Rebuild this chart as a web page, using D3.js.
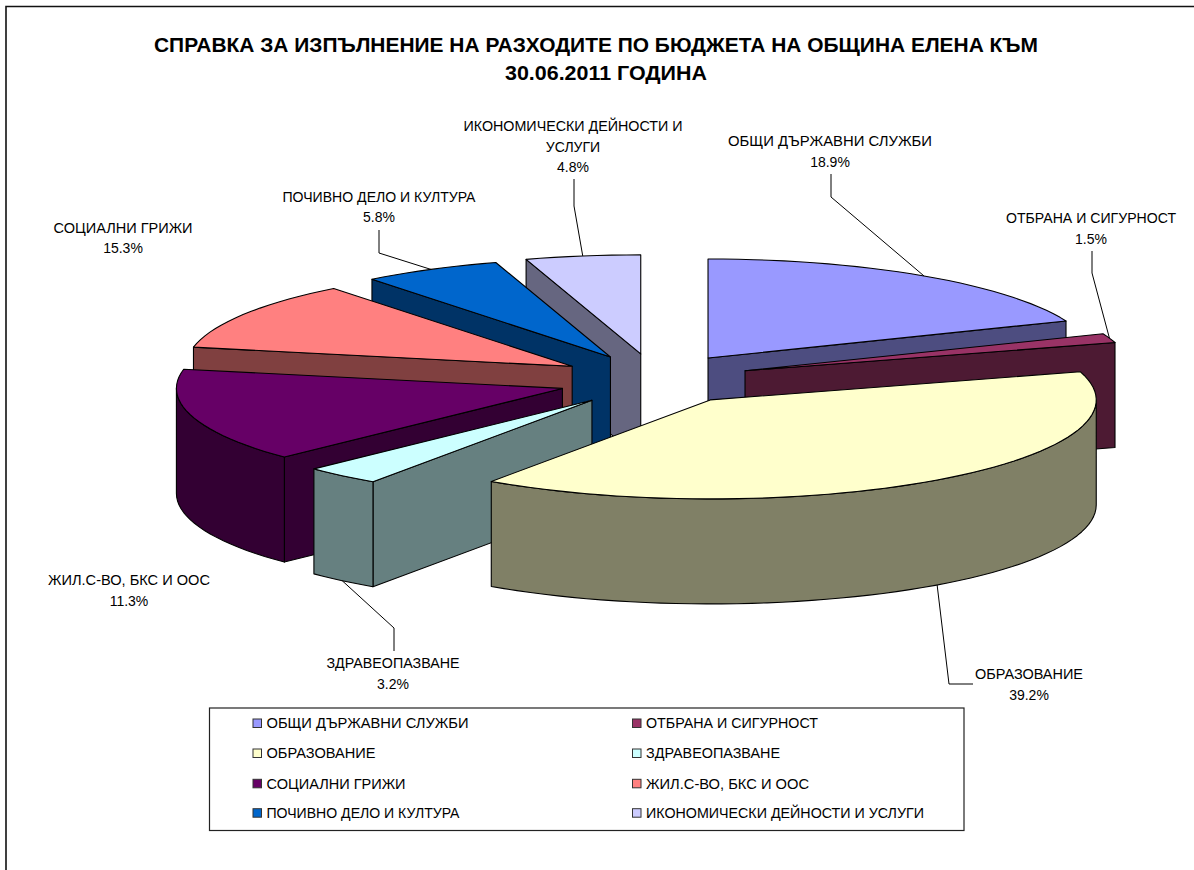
<!DOCTYPE html>
<html>
<head>
<meta charset="utf-8">
<script src="https://cdn.jsdelivr.net/npm/d3@7/dist/d3.min.js"></script>
<style>
html,body{margin:0;padding:0;background:#fff}
svg{display:block}
text{font-family:"Liberation Sans",Arial,sans-serif;fill:#000}
</style>
</head>
<body>
<svg id="chart" width="1194" height="870"></svg>
<script>
const categories = ["ОБЩИ ДЪРЖАВНИ СЛУЖБИ","ОТБРАНА И СИГУРНОСТ","ОБРАЗОВАНИЕ","ЗДРАВЕОПАЗВАНЕ","СОЦИАЛНИ ГРИЖИ","ЖИЛ.С-ВО, БКС И ООС","ПОЧИВНО ДЕЛО И КУЛТУРА","ИКОНОМИЧЕСКИ ДЕЙНОСТИ И УСЛУГИ"];
const values = [18.9,1.5,39.2,3.2,15.3,11.3,5.8,4.8];
const topColors = ["#9999FF","#993366","#FFFFCC","#CCFFFF","#660066","#FF8080","#0066CC","#CCCCFF"];
const titleLines = ["СПРАВКА ЗА ИЗПЪЛНЕНИЕ НА РАЗХОДИТЕ ПО БЮДЖЕТА НА ОБЩИНА ЕЛЕНА КЪМ","30.06.2011 ГОДИНА"];
// data labels as they appear on the chart (wrapped lines, value text)
const labelLines = [
  ["ОБЩИ ДЪРЖАВНИ СЛУЖБИ","18.9%"],
  ["ОТБРАНА И СИГУРНОСТ","1.5%"],
  ["ОБРАЗОВАНИЕ","39.2%"],
  ["ЗДРАВЕОПАЗВАНЕ","3.2%"],
  ["ЖИЛ.С-ВО, БКС И ООС","11.3%"],
  ["СОЦИАЛНИ ГРИЖИ","15.3%"],
  ["ПОЧИВНО ДЕЛО И КУЛТУРА","5.8%"],
  ["ИКОНОМИЧЕСКИ ДЕЙНОСТИ И","УСЛУГИ","4.8%"]
];

// ---- layout ----
const cx = 654.2, cy = 379.2, rx = 386, ry = 99, depth = 105;
const explodeX = 96.2, explodeY = 25.6;
// small per-slice corrections of the explosion
const nudge = [[0,0],[0,0],[-0.5,0],[0,1.5],[0.5,2],[0,0.5],[1,0.5],[1,0]];
const paintOrder = [7,6,5,4,0,1,3,2];
const labelPos = [
  {x:830,y:146,w:204},{x:1091,y:223,w:170},{x:1029,y:679,w:108},{x:393,y:668,w:133},
  {x:129,y:585,w:162},{x:123,y:232.5,w:139},{x:379,y:201.5,w:193},{x:573,y:131,w:219}
];
const lineStep = 20.6;
const leaders = [
  {pts:[[831,174],[831,197]],wall:false},
  {pts:[[1092,251],[1092,273]],wall:false},
  {pts:[[973,684],[949,684]],wall:true},
  {pts:[[394,651],[394,628]],wall:true},
  null,
  null,
  {pts:[[379,230],[379,253]],wall:false},
  {pts:[[574,179],[574,206]],wall:false}
];
const legendBox = {x:209.5,y:708,w:754.5,h:122.5};
const legendCols = [252.5,632], legendRows = [723,753,783.3,812.7], swatch = 8.5;
const legendTextW = [202,172,109,134,139,163,193,278];

const svg = d3.select("#chart");
svg.append("path").attr("d",d3.line()([[6,870],[6,6.5],[1194,6.5]]))
  .attr("fill","none").attr("stroke","#111").attr("stroke-width",1.6);

svg.selectAll("text.title").data(titleLines).enter().append("text")
  .attr("class","title").attr("x",(d,i)=>i?606:596).attr("y",(d,i)=>51.5+i*28)
  .attr("text-anchor","middle").attr("font-size",19.5).attr("font-weight","bold")
  .attr("textLength",(d,i)=>i?202:884).attr("lengthAdjust","spacingAndGlyphs")
  .text(d=>d);

const pie = d3.pie().sort(null).value(d=>d);
const slices = pie(values);

function apex(s){const m=(s.startAngle+s.endAngle)/2,n=nudge[s.index];return [cx+explodeX*Math.sin(m)+n[0],cy-explodeY*Math.cos(m)+n[1]];}
function rim(c,a,dz){return [c[0]+rx*Math.sin(a),c[1]-ry*Math.cos(a)+(dz||0)];}
function arcPts(c,a0,a1,dz){
  const n=Math.max(2,Math.ceil(Math.abs(a1-a0)/0.04));
  return d3.range(n+1).map(i=>rim(c,a0+(a1-a0)*i/n,dz));
}
const path = d3.line();
const g = svg.append("g").attr("stroke","#000").attr("stroke-width",1.1).attr("stroke-linejoin","round");

paintOrder.forEach(i=>{
  const s=slices[i], c=apex(s), col=topColors[i];
  const wall=d3.color(col); wall.r/=2; wall.g/=2; wall.b/=2;
  const wc=wall.formatHex();
  const a0=s.startAngle,a1=s.endAngle;
  const face=a=>{
    const p=rim(c,a);
    g.append("path").attr("fill",wc).attr("d",path([c,p,[p[0],p[1]+depth],[c[0],c[1]+depth]])+"Z");
  };
  if(Math.sin(a0)<-1e-6) face(a0);
  if(Math.sin(a1)>1e-6) face(a1);
  const w0=Math.max(a0,Math.PI/2), w1=Math.min(a1,3*Math.PI/2);
  if(w1>w0){
    const up=arcPts(c,w0,w1,0), dn=arcPts(c,w1,w0,depth);
    g.append("path").attr("fill",wc).attr("d",path(up.concat(dn))+"Z");
  }
  g.append("path").attr("fill",col).attr("d",path([c].concat(arcPts(c,a0,a1,0)))+"Z");
});

// leader lines
const lg = svg.append("g").attr("fill","none").attr("stroke","#000").attr("stroke-width",1);
leaders.forEach((l,i)=>{
  if(!l) return;
  const s=slices[i], c=apex(s), m=(s.startAngle+s.endAngle)/2;
  lg.append("path").attr("d",path(l.pts.concat([rim(c,m,l.wall?depth:0)])));
});

// data labels
labelLines.forEach((lines,i)=>{
  const p=labelPos[i];
  lines.forEach((t,j)=>{
    const isValue=j===lines.length-1;
    const el=svg.append("text").attr("x",p.x).attr("y",p.y+j*lineStep)
      .attr("text-anchor","middle").attr("font-size",14).text(t);
    if(!isValue && t.length>6) el.attr("textLength",p.w).attr("lengthAdjust","spacingAndGlyphs");
  });
});

// legend
svg.append("rect").attr("x",legendBox.x).attr("y",legendBox.y).attr("width",legendBox.w).attr("height",legendBox.h)
  .attr("fill","#fff").attr("stroke","#222").attr("stroke-width",1.2);
categories.forEach((name,i)=>{
  const col=i%2, row=Math.floor(i/2);
  svg.append("rect").attr("x",legendCols[col]+.5).attr("y",legendRows[row]-4).attr("width",swatch).attr("height",swatch)
    .attr("fill",topColors[i]).attr("stroke","#333").attr("stroke-width",1);
  svg.append("text").attr("x",legendCols[col]+14).attr("y",legendRows[row]+5.3)
    .attr("font-size",14).attr("textLength",legendTextW[i]).attr("lengthAdjust","spacingAndGlyphs").text(name);
});
</script>
</body>
</html>
